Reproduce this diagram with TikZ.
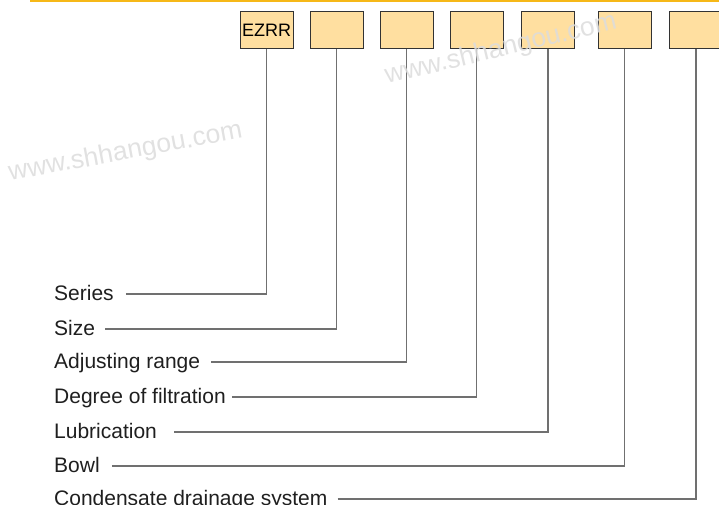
\documentclass[tikz,border=0pt]{standalone}
\usepackage{fontspec}
\setmainfont{Liberation Sans}
\usepackage{xcolor}
\usepackage{tikz}
\usetikzlibrary{positioning, calc}

\definecolor{codefill}{HTML}{FFDFA0}
\definecolor{topline}{HTML}{F6B818}
\definecolor{leadgray}{HTML}{707070}
\definecolor{marktext}{HTML}{DCDCDC}

\begin{document}
\begin{tikzpicture}[x=1pt, y=-1pt,
    codebox/.style={draw=black!80, fill=codefill, line width=0.8pt, minimum width=53pt, minimum height=37pt, inner sep=0pt, font=\fontsize{18}{18}\selectfont},
    itemlabel/.style={anchor=base west, inner sep=0pt, text=black!88, font=\fontsize{21}{21}\selectfont},
    leader/.style={draw=leadgray, line width=1.2pt},
    watermark/.style={anchor=base west, inner sep=0pt, text=marktext, opacity=0.85, font=\fontsize{26.5}{27}\selectfont}
]
\useasboundingbox (0,0) rectangle (719,504);
\clip (0,0) rectangle (719,504);

% Top rule
\draw [topline, line width=2.2pt] (30,1) -- (719,1);

% Code boxes
\node (b1) [codebox] at (266.5,30) {EZRR};
\node (b2) [codebox] at (336.5,30) {};
\node (b3) [codebox] at (406.5,30) {};
\node (b4) [codebox] at (476.5,30) {};
\node (b5) [codebox] at (548,30) {};
\node (b6) [codebox] at (624.5,30) {};
\node (b7) [codebox] at (696,30) {};

% Labels
\node (series) [itemlabel] at (54,300) {Series};
\node (size) [itemlabel] at (54,335) {Size};
\node (range) [itemlabel] at (54,368) {Adjusting range};
\node (filtration) [itemlabel] at (54,403) {Degree of filtration};
\node (lubrication) [itemlabel] at (54,438) {Lubrication};
\node (bowl) [itemlabel] at (54,472) {Bowl};
\node (drainage) [itemlabel] at (54,505) {Condensate drainage system};

% Edges
\foreach \item/\code/\gap in {series/b1/12, size/b2/10, range/b3/11, filtration/b4/6, lubrication/b5/17, bowl/b6/12, drainage/b7/10}
    \draw [leader] ($(\item.base east)+(\gap,-6)$) -| (\code.south);

% Watermarks
\node (mark1) [watermark, rotate=10.5] at (10,181) {www.shhangou.com};
\node (mark2) [watermark, rotate=13.5] at (387,84) {www.shhangou.com};

\end{tikzpicture}
\end{document}
